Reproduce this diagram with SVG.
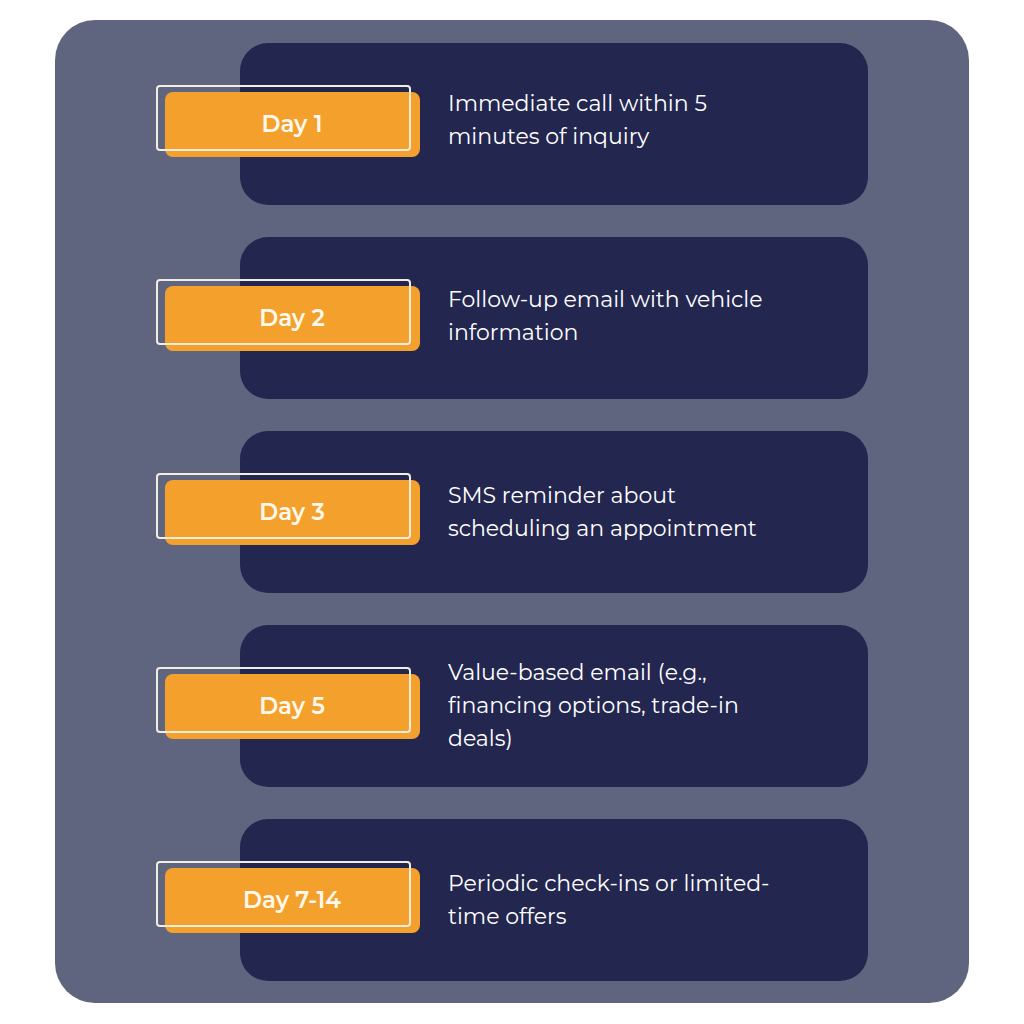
<svg xmlns="http://www.w3.org/2000/svg" width="1024" height="1024" viewBox="0 0 1024 1024">
<style>
.card{fill:#23264f}
.tag{fill:#f4a02c}
.out{fill:none;stroke:#f3ece0;stroke-width:2}
.lbl{font-family:Montserrat,"Open Sans","Liberation Sans",sans-serif;font-weight:600;font-size:23px;fill:#fff8ec;text-anchor:middle}
.txt{font-family:Montserrat,"Open Sans","Liberation Sans",sans-serif;font-size:22px;fill:#ffffff}
</style>
<rect width="1024" height="1024" fill="#fff"/>
<rect x="55" y="20" width="914" height="983" rx="40" fill="#60657f"/>
<g id="n1"><rect class="card" x="240" y="43" width="628" height="162" rx="28"/><rect class="tag" x="165" y="92" width="255" height="65" rx="8"/><rect class="out" x="157" y="86" width="253" height="64" rx="3"/><text class="lbl" x="292" y="132">Day 1</text><text class="txt" x="448" y="111">Immediate call within 5</text><text class="txt" x="448" y="144">minutes of inquiry</text></g>
<g id="n2"><rect class="card" x="240" y="237" width="628" height="162" rx="28"/><rect class="tag" x="165" y="286" width="255" height="65" rx="8"/><rect class="out" x="157" y="280" width="253" height="64" rx="3"/><text class="lbl" x="292" y="326">Day 2</text><text class="txt" x="448" y="307">Follow-up email with vehicle</text><text class="txt" x="448" y="340">information</text></g>
<g id="n3"><rect class="card" x="240" y="431" width="628" height="162" rx="28"/><rect class="tag" x="165" y="480" width="255" height="65" rx="8"/><rect class="out" x="157" y="474" width="253" height="64" rx="3"/><text class="lbl" x="292" y="520">Day 3</text><text class="txt" x="448" y="503">SMS reminder about</text><text class="txt" x="448" y="536">scheduling an appointment</text></g>
<g id="n4"><rect class="card" x="240" y="625" width="628" height="162" rx="28"/><rect class="tag" x="165" y="674" width="255" height="65" rx="8"/><rect class="out" x="157" y="668" width="253" height="64" rx="3"/><text class="lbl" x="292" y="714">Day 5</text><text class="txt" x="448" y="680">Value-based email (e.g.,</text><text class="txt" x="448" y="713">financing options, trade-in</text><text class="txt" x="448" y="746">deals)</text></g>
<g id="n5"><rect class="card" x="240" y="819" width="628" height="162" rx="28"/><rect class="tag" x="165" y="868" width="255" height="65" rx="8"/><rect class="out" x="157" y="862" width="253" height="64" rx="3"/><text class="lbl" x="292" y="908">Day 7-14</text><text class="txt" x="448" y="891">Periodic check-ins or limited-</text><text class="txt" x="448" y="924">time offers</text></g>
<g id="connectors"/>
</svg>
